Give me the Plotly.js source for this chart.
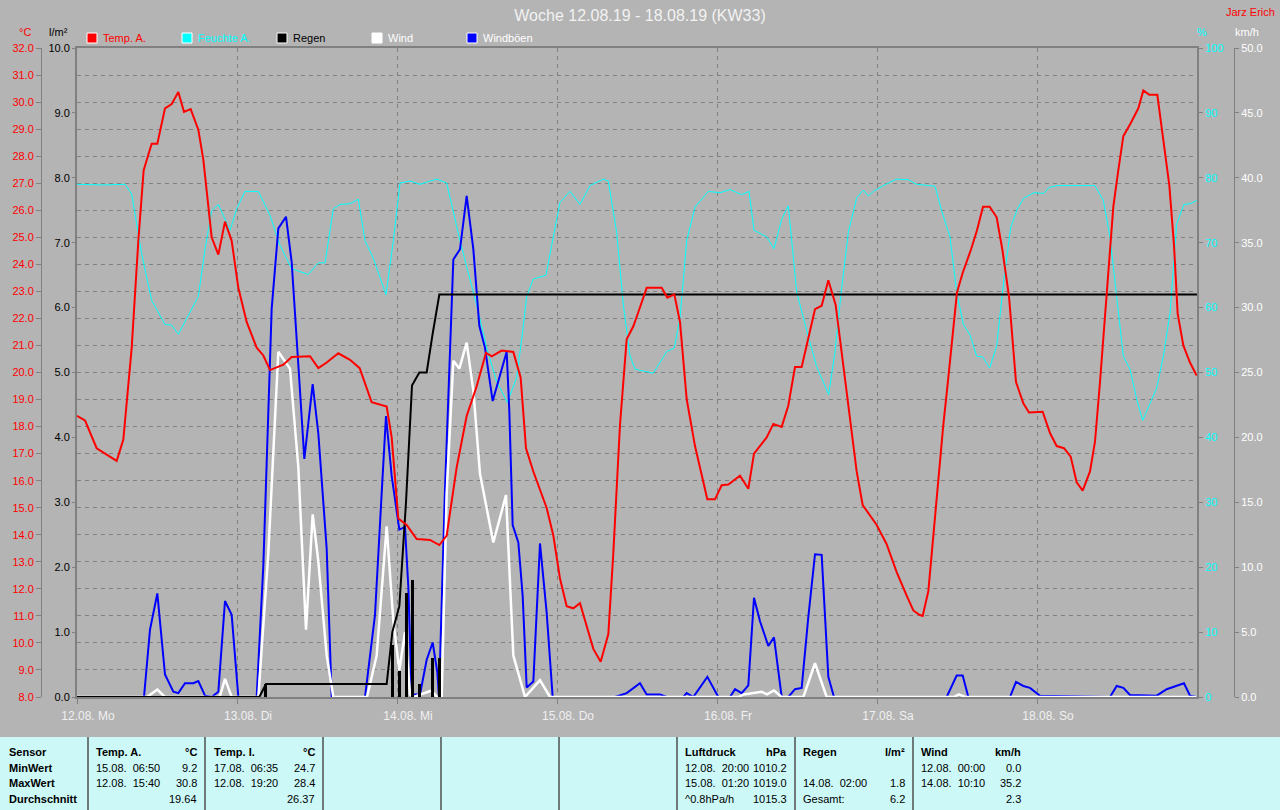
<!DOCTYPE html>
<html><head><meta charset="utf-8">
<script src="https://cdn.plot.ly/plotly-3.0.1.min.js"></script>
<style>html,body{margin:0;padding:0;background:#b4b4b4;}#chart{width:1280px;height:810px;}</style>
</head><body><div id="chart"></div>
<script>
// ---------- DATA (hours since 12.08. 00:00) ----------
const dayTicks = [0, 24, 48, 72, 96, 120, 144];
const dayLabels = ['12.08. Mo', '13.08. Di', '14.08. Mi', '15.08. Do', '16.08. Fr', '17.08. Sa', '18.08. So'];

const tempHours = [0,1.2,2.95,4.45,5.95,6.95,8.2,9.2,10,11.2,12.05,13.2,14.2,15.2,16.05,17.05,18.2,18.95,19.7,20.2,21.2,22.2,23.2,24.2,25.45,26.95,27.95,28.95,30.95,32.2,34.95,36.2,37.45,39.2,40.95,42.4,44.2,46.45,47.2,48.2,49.45,50.95,52.95,54.35,55.45,56.95,58.45,59.95,61.35,62.2,63.7,65.45,66.55,67.35,68.45,70.45,71.45,72.45,73.45,74.45,75.45,77.45,78.55,79.7,80.45,81.45,82.45,83.45,84.35,85.45,87.7,88.55,89.6,90.45,91.45,92.7,94.55,95.7,96.7,97.7,99.45,100.7,101.55,103.45,104.45,105.7,106.7,107.7,108.7,109.95,110.7,111.7,112.7,113.8,114.95,115.95,116.95,117.85,119.95,121.45,122.95,124.45,125.45,126.35,126.85,127.7,128.45,129.2,129.95,130.7,131.4,132,132.85,134.1,135,135.9,136.9,137.95,138.8,139.8,140.85,141.95,142.8,144.85,145.95,146.95,148.05,149.05,149.95,150.85,151.95,152.7,153.45,154.45,155.45,156.2,156.95,158.05,159.2,159.95,160.85,162.05,162.95,163.85,164.55,165.1,165.95,166.95,167.95];
const tempValues = [18.4,18.23,17.2,16.97,16.73,17.52,20.9,24.87,27.48,28.46,28.46,29.77,29.93,30.37,29.64,29.74,28.98,27.87,26.29,25.0,24.36,25.58,24.87,23.13,21.87,20.92,20.63,20.09,20.29,20.57,20.6,20.16,20.37,20.71,20.47,20.16,18.9,18.74,17.6,14.6,14.36,13.84,13.81,13.62,13.97,16.49,18.39,19.49,20.73,20.6,20.81,20.76,19.81,17.2,16.34,14.99,13.97,12.38,11.36,11.28,11.47,9.78,9.3,10.33,13.33,18.07,21.23,21.71,22.34,23.13,23.13,22.77,22.89,21.87,19.02,17.28,15.31,15.31,15.83,15.86,16.18,15.7,17.0,17.6,18.1,17.99,18.78,20.2,20.2,21.47,22.34,22.47,23.41,22.5,20.29,18.39,16.34,15.1,14.36,13.65,12.62,11.75,11.2,11.04,11.0,11.91,13.97,16.18,18.07,19.81,21.55,22.97,23.68,24.55,25.26,26.13,26.13,25.74,24.55,22.82,19.65,18.86,18.52,18.55,17.76,17.28,17.2,16.89,15.94,15.63,16.34,17.44,19.65,22.97,26.13,27.48,28.74,29.22,29.77,30.43,30.27,30.27,28.5,26.92,24.71,22.18,21.0,20.37,19.89];

const humHours = [0,3.95,7.2,8.2,9.7,11.2,13.2,14.2,15.2,16.2,18.2,19.2,20.2,21.2,22.95,23.95,25.2,27.2,28.95,30.45,32.2,34.7,36.2,37.2,38.45,39.45,40.95,42.2,43.2,44.45,46.35,47.45,48.45,49.95,51.45,53.95,55.45,57.45,59.95,61.45,62.95,64.55,65.95,66.7,67.45,68.45,70.35,71.2,72.45,73.95,75.45,76.95,78.95,79.7,80.95,81.95,82.95,83.7,86.45,88.45,89.6,90.45,91.45,92.7,94.7,96.45,97.95,99.7,100.8,101.55,103.45,104.55,105.7,106.7,107.95,109.45,110.95,112.75,113.7,114.7,115.7,116.95,117.95,118.7,119.45,120.95,122.95,124.7,125.95,128.7,129.7,130.95,131.95,132.95,133.95,134.95,135.85,136.9,137.95,139.05,140.05,141.05,142.05,143.55,145.05,145.8,147.05,152.7,153.95,154.95,155.95,156.95,157.95,158.95,159.85,160.95,161.95,162.95,163.95,164.95,166.05,166.95,167.95];
const humValues = [79.0,78.9,79.0,77.5,68.3,61.1,57.4,57.3,55.9,57.8,61.7,69.0,74.9,75.9,71.9,75.2,77.9,77.9,74.2,69.6,66.0,65.1,66.9,66.9,75.2,75.9,76.0,76.7,70.3,67.6,62.0,70.3,79.2,79.5,79.0,79.8,79.2,70.3,60.4,53.8,48.6,45.4,49.2,55.1,61.7,64.4,65.0,69.6,76.2,77.9,75.9,78.8,79.8,79.5,71.6,60.4,52.6,50.5,49.9,53.2,53.8,58.4,70.3,75.5,77.9,77.7,78.2,77.4,77.9,71.9,70.9,69.1,73.6,75.7,62.4,56.5,50.9,46.6,53.2,63.0,71.6,76.9,78.1,77.2,77.9,78.8,79.8,79.7,79.0,78.7,74.9,70.9,62.4,57.4,55.8,52.5,52.4,50.7,54.1,64.4,72.3,75.2,76.9,77.7,77.6,78.5,78.8,78.8,76.5,70.9,61.7,52.5,50.5,45.9,42.6,45.3,47.6,52.5,59.1,72.9,75.9,76.0,76.5];

const rainSumHours = [0,27.35,28.35,46.45,47.3,48.35,49.35,50.25,51.35,52.45,53.35,54.35,168];
const rainSumValues = [0,0,0.2,0.2,1.0,1.4,3.0,4.8,5.0,5.0,5.6,6.2,6.2];
const rainBarHours = [28.2,47.3,48.35,49.35,50.25,51.35,53.35,54.35];
const rainBarValues = [0.2,0.8,0.4,1.6,1.8,0.2,0.6,0.6];

const windHours = [0,10.5,12.05,13.2,21.4,22.2,23.2,27.2,28.7,30.2,31.95,33.2,34.35,35.35,36.2,37.45,38.45,43.5,44.95,46.45,47.45,48.35,49.2,49.95,50.5,53.2,54,54.7,55.45,56.45,57.35,58.45,59.45,60.45,62.45,64.35,65.45,67.2,69.45,70.95,99.2,100,102.7,103.5,104.55,105.7,108.95,110.7,112.45,131.5,132.3,133.2,167.95];
const windValues = [0,0,0.57,0,0,1.4,0,0,11.1,26.6,25.3,17.7,5.18,14.07,10.45,3.2,0,0,3.2,13.15,5.84,2.06,5.0,0.2,0,0.5,0,0,15.7,25.9,25.3,27.3,23.6,17.2,11.9,15.55,3.2,0,1.3,0,0,0.2,0.4,0.2,0.5,0,0,2.6,0,0,0.2,0,0];

const gustHours = [0,10.05,10.95,12.05,13.2,14.45,15.2,16.2,17.45,18.2,19.2,20.2,21.2,22.2,23.2,24.2,26.95,27.95,29.2,30.2,31.35,32.2,33.2,34.1,35.35,36.2,37.45,38.2,43.2,44.7,45.7,46.35,47.2,48.35,49.2,49.7,50.2,51.45,52.45,53.35,54.05,54.3,55.2,55.95,56.45,57.45,58.45,59.45,60.35,61.2,62.35,64.45,64.85,65.35,66.2,66.85,67.45,68.45,69.45,70.45,71.35,80.7,82.45,84.45,85.45,87.45,88.45,90.95,91.45,92.45,94.55,96.2,97.95,98.7,99.7,100.7,101.55,102.45,103.7,104.55,105.7,106.7,107.7,108.7,109.7,110.7,111.7,112.7,113.55,130.45,131.95,132.85,133.7,139.95,140.85,141.95,142.95,144.45,154.95,155.95,156.95,157.95,161.95,163.45,164.95,166.05,166.95,167.95];
const gustValues = [0,0,5.18,7.98,1.73,0.41,0.3,1.06,1.06,1.23,0.1,0,0.4,7.4,6.33,0,0,10.12,29.9,36.1,37.0,33.5,25.6,18.35,24.1,20.3,11.44,0,0,6.33,15.7,21.65,17.03,12.9,13.1,8.47,0.2,0.2,2.87,4.2,1.9,0,16.05,27.6,33.7,34.5,38.6,34.5,28.6,26.9,22.8,26.6,22.0,13.25,11.9,7.8,0.74,1.2,11.83,6.5,0,0,0.3,1.06,0.2,0.2,0,0,0.3,0,1.55,0,0,0.6,0.3,0.9,7.65,5.84,3.93,4.6,0,0,0.6,0.7,6.17,11.0,10.95,1.55,0,0,1.65,1.65,0,0,1.16,0.85,0.7,0.1,0,0.85,0.7,0.15,0.1,0.6,0.9,1.06,0.1,0];

// ---------- legend & table text ----------
const legendNames = ['Temp. A.', 'Feuchte A.', 'Regen', 'Wind', 'Windböen'];
const tableRowLabels = ['Sensor', 'MinWert', 'MaxWert', 'Durchschnitt'];
const tableHeads = [['Temp. A.', '°C'], ['Temp. I.', '°C'], ['Luftdruck', 'hPa'], ['Regen', 'l/m²'], ['Wind', 'km/h']];
const tableCells = [
  [['15.08.  06:50', '9.2'], ['12.08.  15:40', '30.8'], ['', '19.64']],
  [['17.08.  06:35', '24.7'], ['12.08.  19:20', '28.4'], ['', '26.37']],
  [['12.08.  20:00', '1010.2'], ['15.08.  01:20', '1019.0'], ['^0.8hPa/h', '1015.3']],
  [['', ''], ['14.08.  02:00', '1.8'], ['Gesamt:', '6.2']],
  [['12.08.  00:00', '0.0'], ['14.08.  10:10', '35.2'], ['', '2.3']]
];

// ---------- layout helpers ----------
const W = 1280, H = 810;
const X0 = 77, X1 = 1197, YT = 48, YB = 697;
const px = x => x / W;
const py = y => 1 - y / H;
const FONT = '"Liberation Sans", Arial, sans-serif';
const GRID = '#808080';
const yDom = [py(YB), py(YT)];

// drawing order: humidity (y, main), gusts + wind (y2), rain (y3), temperature (y4)
const traces = [
  {x: humHours, y: humValues, type: 'scatter', mode: 'lines', line: {color: '#00ffff', width: 1}, yaxis: 'y'},
  {x: gustHours, y: gustValues, type: 'scatter', mode: 'lines', line: {color: '#0000ff', width: 2}, yaxis: 'y2'},
  {x: windHours, y: windValues, type: 'scatter', mode: 'lines', line: {color: '#ffffff', width: 2.5}, yaxis: 'y2'},
  {x: rainBarHours, y: rainBarValues, type: 'bar', width: 0.45, marker: {color: '#000000', line: {width: 0}}, yaxis: 'y3', hoverinfo: 'skip'},
  {x: rainSumHours, y: rainSumValues, type: 'scatter', mode: 'lines', line: {color: '#000000', width: 2}, yaxis: 'y3'},
  {x: tempHours, y: tempValues, type: 'scatter', mode: 'lines', line: {color: '#ff0000', width: 2}, yaxis: 'y4'}
];

const annotations = [];
const shapes = [];
function txt(t, x, y, color, opts) {
  annotations.push(Object.assign({text: t, x: px(x), y: py(y), xref: 'paper', yref: 'paper', showarrow: false,
    xanchor: 'left', yanchor: 'middle', borderpad: 0, font: {family: FONT, size: 11, color: color}}, opts || {}));
}
txt('Jarz Erich', 1276, 12, '#ff0000', {xanchor: 'right'});
txt('°C', 25, 32, '#ff0000', {xanchor: 'center'});
txt('l/m²', 58, 32, '#000000', {xanchor: 'center'});
txt('%', 1202, 32, '#00ffff', {xanchor: 'center'});
txt('km/h', 1247, 32, '#ffffff', {xanchor: 'center'});
const legendColors = ['#ff0000', '#00ffff', '#000000', '#ffffff', '#0000ff'];
const legendTextColors = ['#ff0000', '#00ffff', '#000000', '#ffffff', '#ffffff'];
const legendX = [87, 182, 277, 372, 467];
legendNames.forEach((n, i) => {
  shapes.push({type: 'rect', xref: 'paper', yref: 'paper', x0: px(legendX[i]), x1: px(legendX[i] + 10), y0: py(43), y1: py(33),
    fillcolor: legendColors[i], line: {color: '#ffffff', width: 1}});
  txt(n, legendX[i] + 15, 38, legendTextColors[i]);
});
shapes.push({type: 'rect', xref: 'paper', yref: 'paper', x0: 0, x1: 1, y0: 0, y1: py(737), fillcolor: '#ccf8f8', line: {width: 0}, layer: 'below'});
[88, 205, 323, 441, 559, 677, 795, 913].forEach(x => {
  shapes.push({type: 'line', xref: 'paper', yref: 'paper', x0: px(x), x1: px(x), y0: 0, y1: py(737), line: {color: '#505050', width: 1.5}});
});
const rowY = [752, 768, 783, 799];
tableRowLabels.forEach((t, i) => txt('<b>' + t + '</b>', 8, rowY[i], '#000000'));
const colX = [[95, 198], [213, 316], [684, 788], [802, 906], [920, 1022]];
tableHeads.forEach((h, c) => {
  txt('<b>' + h[0] + '</b>', colX[c][0], rowY[0], '#000000');
  txt('<b>' + h[1] + '</b>', colX[c][1], rowY[0], '#000000', {xanchor: 'right'});
  tableCells[c].forEach((row, r) => {
    if (row[0]) txt(row[0].replace(/ /g, '\u00a0'), colX[c][0], rowY[r + 1], '#000000');
    if (row[1]) txt(row[1], colX[c][1], rowY[r + 1], '#000000', {xanchor: 'right'});
  });
});

const layout = {
  width: W, height: H, margin: {l: 0, r: 0, t: 0, b: 0},
  paper_bgcolor: '#b4b4b4', plot_bgcolor: '#b4b4b4', showlegend: false,
  font: {family: FONT, size: 11},
  title: {text: 'Woche 12.08.19 - 18.08.19 (KW33)', x: 0.5, xanchor: 'center', xref: 'container', y: 1 - 15 / H, yanchor: 'middle', yref: 'container',
    font: {family: FONT, size: 16, color: '#f2f2f2'}},
  bargap: 0,
  xaxis: {domain: [px(X0), px(X1)], range: [0, 168], tickvals: dayTicks, ticktext: dayLabels, showgrid: true, gridcolor: GRID, griddash: '4px,4px', gridwidth: 1,
    ticks: 'outside', ticklen: 5, tickcolor: GRID, tickfont: {family: FONT, size: 12, color: '#f0f0f0'}, ticklabelshift: 11, ticklabelstandoff: 2,
    showline: true, mirror: true, linecolor: GRID, linewidth: 2, zeroline: false, fixedrange: true},
  // humidity (main axis, right side of the plot frame)
  yaxis: {domain: yDom, side: 'right', anchor: 'x', range: [0, 100], dtick: 10, tickfont: {family: FONT, size: 11, color: '#00ffff'}, ticks: 'outside', ticklen: 4, tickcolor: GRID,
    showgrid: false, showline: true, mirror: true, linecolor: GRID, linewidth: 2, zeroline: false, fixedrange: true},
  // wind
  yaxis2: {overlaying: 'y', side: 'right', anchor: 'free', position: px(1234), range: [0, 50], dtick: 5, tickformat: '.1f', tickfont: {family: FONT, size: 11, color: '#ffffff'},
    ticks: 'outside', ticklen: 4, tickcolor: GRID, showline: true, linecolor: GRID, linewidth: 1, showgrid: false, zeroline: false, fixedrange: true},
  // rain (left side of the plot frame)
  yaxis3: {overlaying: 'y', side: 'left', anchor: 'x', range: [0, 10], dtick: 1, tickformat: '.1f', tickfont: {family: FONT, size: 11, color: '#000000'}, ticks: 'outside', ticklen: 4, tickcolor: GRID,
    showgrid: false, showline: false, zeroline: false, fixedrange: true},
  // temperature
  yaxis4: {overlaying: 'y', side: 'left', anchor: 'free', position: px(41), range: [8, 32], dtick: 1, tickformat: '.1f', tickfont: {family: FONT, size: 11, color: '#ff0000'},
    ticks: 'outside', ticklen: 5, tickcolor: GRID, showline: true, linecolor: GRID, linewidth: 1, showgrid: true, gridcolor: GRID, griddash: '4px,4px', gridwidth: 1, zeroline: false, fixedrange: true},
  annotations: annotations,
  shapes: shapes
};

Plotly.newPlot('chart', traces, layout, {staticPlot: true, displayModeBar: false});
</script>
</body></html>
